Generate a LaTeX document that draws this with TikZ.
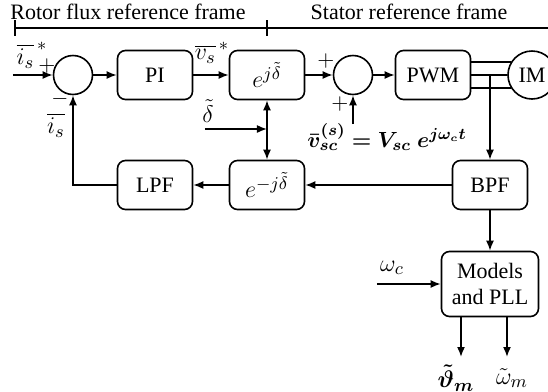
\documentclass[tikz,border=0pt]{standalone}
\usepackage{amsmath,bm}
\usepackage[no-math]{fontspec}
\setmainfont{Liberation Serif}
\usetikzlibrary{positioning,arrows.meta}

\tikzset{
  >={Latex[length=5pt,width=4pt]},
  block/.style={draw, thick, rounded corners=4pt, minimum width=37.5pt,
    minimum height=24.5pt, align=center},
  sumnode/.style={draw, thick, circle, minimum size=19.5pt, inner sep=0pt},
  motor/.style={draw, thick, circle, minimum size=24pt, inner sep=0pt},
  sig/.style={thick, ->},
  mathlbl/.style={font=\fontsize{13}{15}\selectfont, inner sep=1pt},
}

\begin{document}
\begin{tikzpicture}[x=0.5pt,y=-0.5pt,font=\fontsize{11}{13}\selectfont]
\useasboundingbox (0,0) rectangle (548,392);

% Reference frames along the top
\node (rotor) at (128,12) {Rotor flux reference frame};
\node (stator) at (409,12) {Stator reference frame};
\coordinate (fl) at (15,28);
\coordinate (fm) at (267,28);
\coordinate (fr) at (548,28);
\draw[thick] (fl) -- (fr);
\draw[thick] ([yshift=4pt]fl) -- ([yshift=-4pt]fl);
\draw[thick] ([yshift=4pt]fm) -- ([yshift=-4pt]fm);

% Forward path
\node[sumnode] (sum1) at (73,75) {};
\node[block] (pi) at (155,75) {PI};
\node[block, mathlbl, inner sep=3pt] (rot) at (267,75) {$e^{j\tilde\delta}$};
\node[sumnode] (sum2) at (353,75) {};
\node[block] (pwm) at (433,75) {PWM};
\node[motor] (im) at (532,75) {IM};

% Feedback path
\node[block] (lpf) at (155,185) {LPF};
\node[block, mathlbl, inner sep=3pt] (derot) at (267,185) {$e^{-j\tilde\delta}$};
\node[block] (bpf) at (490,185) {BPF};
\node[block, minimum width=48.5pt, minimum height=32.5pt] (pll) at (490,284) {Models\\and PLL};

% Free ends
\coordinate (iref) at (13,75);
\coordinate (dref) at (205,129);
\coordinate (djoin) at (267,129);
\coordinate (tap) at (bpf.north |- pwm.east);
\coordinate (vscin) at (353,124);
\coordinate (wcin) at (377,284);
\coordinate (th) at (461,357);
\coordinate (om) at (507,357);

% Signal labels
\node[mathlbl] (isref) at (32,55) {$\overline{i_s}^{\,*}$};
\node[inner sep=1pt] (plus1) at (47,66) {$+$};
\node[inner sep=1pt] (minus1) at (60,99) {$-$};
\node[mathlbl] (isfb) at (56,125) {$\overline{i_s}$};
\node[mathlbl] (vsref) at (212,53) {$\overline{v_s}^{\,*}$};
\node[mathlbl] (dlab) at (208,111) {$\tilde\delta$};
\node[inner sep=1pt] (plus2) at (326,61) {$+$};
\node[inner sep=1pt] (plus3) at (340,104) {$+$};
\node[inner sep=1pt] (vsclab) at (387,137) {$\boldsymbol{\bar v_{sc}^{(s)} = V_{sc}\; e^{j\omega_c t}}$};
\node[mathlbl] (wclab) at (392,268) {$\omega_c$};
\node[mathlbl] (thlab) at (456,378) {$\bm{\tilde\vartheta_m}$};
\node[mathlbl] (omlab) at (512,378) {$\tilde\omega_m$};

% Connectors
\draw[sig] (iref) -- (sum1.west);
\draw[sig] (sum1.east) -- (pi.west);
\draw[sig] (pi.east) -- (rot.west);
\draw[sig] (rot.east) -- (sum2.west);
\draw[sig] (sum2.east) -- (pwm.west);
\draw[sig] (vscin) -- (sum2.south);
\draw[thick] (im.148.5 -| pwm.east) -- (im.148.5);
\draw[thick] (pwm.east) -- (im.west);
\draw[thick] (im.211.5 -| pwm.east) -- (im.211.5);
\draw[sig] (tap) -- (bpf.north);
\draw[sig] (bpf.west) -- (derot.east);
\draw[sig] (derot.west) -- (lpf.east);
\draw[sig] (lpf.west) -| (sum1.south);
\draw[sig] (dref) -- (djoin);
\draw[thick,<->] (rot.south) -- (derot.north);
\draw[sig] (bpf.south) -- (pll.north);
\draw[sig] (wcin) -- (pll.west);
\draw[sig] (th |- pll.south) -- (th);
\draw[sig] (om |- pll.south) -- (om);

\end{tikzpicture}
\end{document}
